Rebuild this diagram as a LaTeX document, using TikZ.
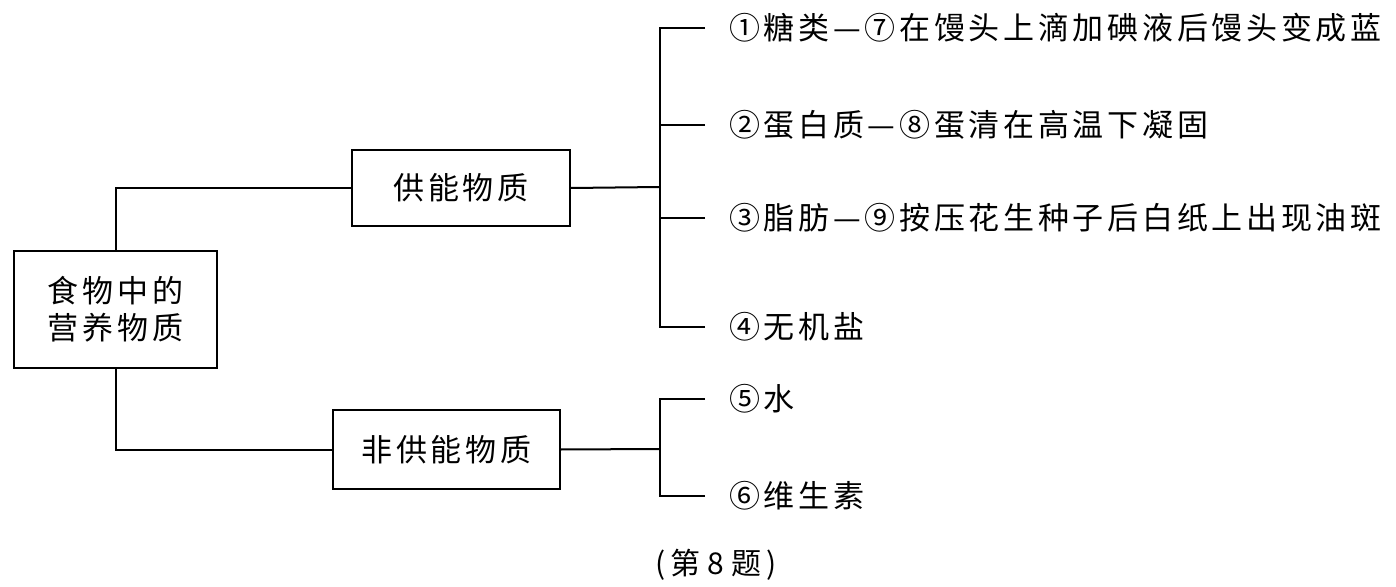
\documentclass[tikz,border=0pt]{standalone}
\usepackage{fontspec}
\newfontfamily\cjk[LetterSpace=12]{Noto Sans CJK SC}
\newfontfamily\cjkcap{Noto Sans CJK SC}
\begin{document}
\begin{tikzpicture}[x=0.5pt,y=-0.5pt,
  line width=1pt,
  every node/.style={font=\cjk\fontsize{15.5pt}{18.5pt}\selectfont, inner sep=0pt},
  box/.style={draw, line width=1pt, align=center},
  item/.style={anchor=west}]
\useasboundingbox (0,0) rectangle (1396,587);

% boxes
\node[box, minimum width=101.5pt, minimum height=58.5pt] (food) at (115.5,309.5) {食物中的\\营养物质};
\node[box, minimum width=109pt, minimum height=38pt] (supply) at (461,188) {供能物质};
\node[box, minimum width=113.5pt, minimum height=39.5pt] (nonsupply) at (446.5,449.5) {非供能物质};

% junctions
\coordinate (j1) at (660,187);
\coordinate (j2) at (660,449);

% items
\node[item] (t1) at (728,28) {①糖类—⑦在馒头上滴加碘液后馒头变成蓝};
\node[item] (t2) at (728,125) {②蛋白质—⑧蛋清在高温下凝固};
\node[item] (t3) at (728,218) {③脂肪—⑨按压花生种子后白纸上出现油斑};
\node[item] (t4) at (728,327) {④无机盐};
\node[item] (t5) at (728,399) {⑤水};
\node[item] (t6) at (728,496) {⑥维生素};

% caption
\node[font=\cjkcap\fontsize{15pt}{18pt}\selectfont] (cap) at (716,565) {(\,第\ 8\ 题\,)};

% connectors
\draw (food.north) |- (supply.west);
\draw (food.south) |- (nonsupply.west);
\draw (supply.east) -- (j1);
\draw (nonsupply.east) -- (j2);
\foreach \t in {t1,t2,t3,t4} \draw ([xshift=-11.5pt]\t.west) -| (j1);
\foreach \t in {t5,t6} \draw ([xshift=-11.5pt]\t.west) -| (j2);
\end{tikzpicture}
\end{document}
